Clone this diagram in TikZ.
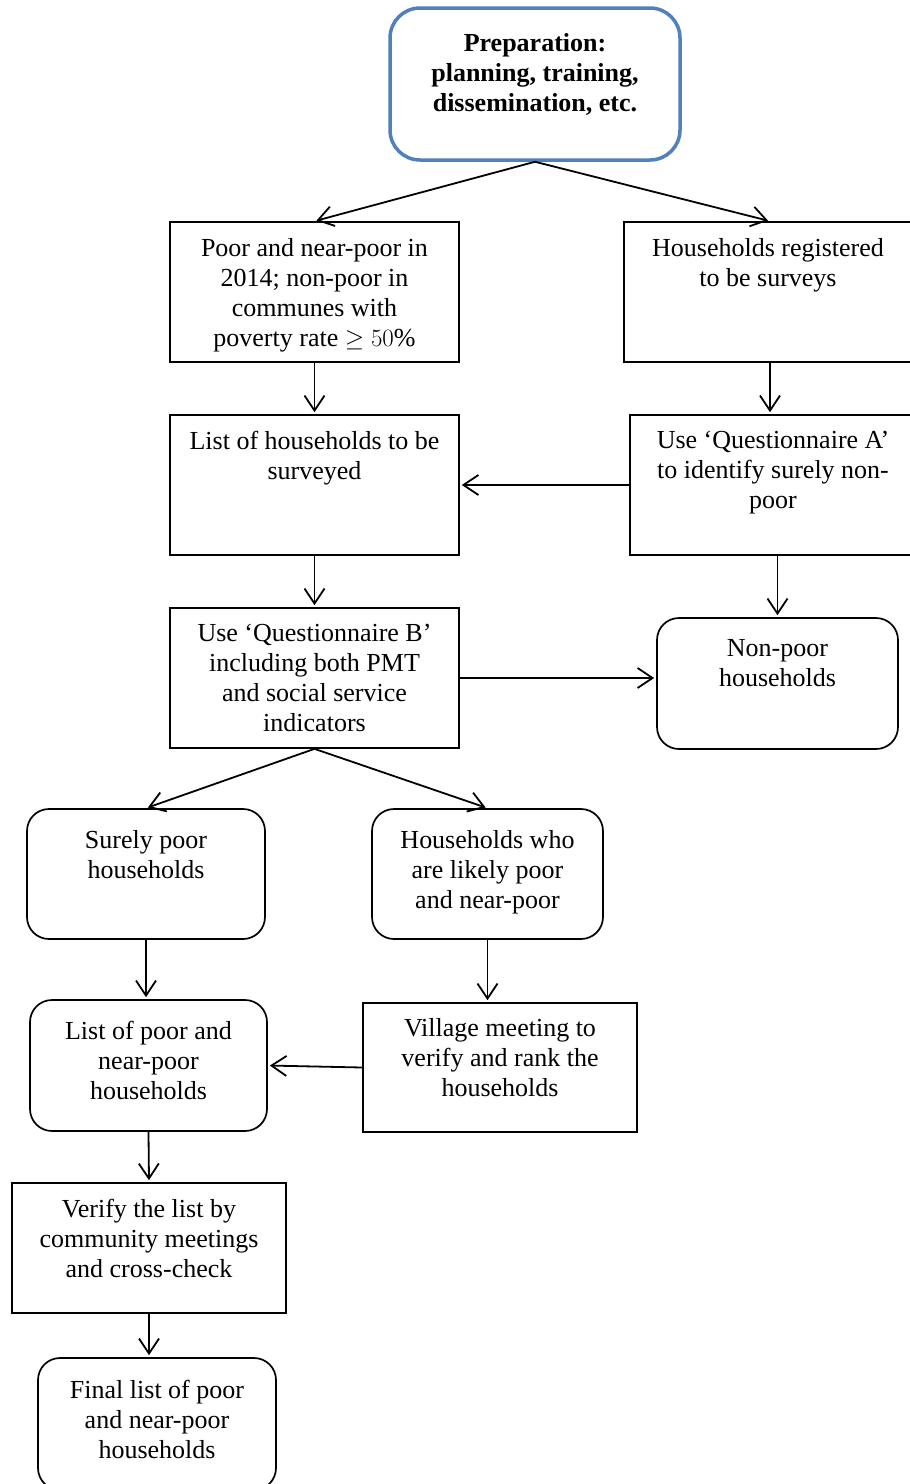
\documentclass[tikz,border=0pt]{standalone}
\usepackage{fontspec}
\setmainfont{Liberation Serif}
\usetikzlibrary{arrows.meta,calc}
\definecolor{prepblue}{RGB}{79,129,189}
\begin{document}
\begin{tikzpicture}[x=1pt,y=-1pt,
  box/.style={draw=black, line width=1.7pt, inner sep=0pt, fill=white},
  rbox/.style={box, rounded corners=22pt},
  txt/.style={anchor=north, align=center, inner sep=0pt, font=\fontsize{26}{30}\selectfont, execute at begin node=\strut},
  arr/.style={line width=1.8pt, -{Straight Barb[length=15pt,width=20pt,line width=1.8pt]}, shorten >=2pt}]
\useasboundingbox (0,0) rectangle (910,1484);
% boxes
\node[box, draw=prepblue, line width=3.5pt, rounded corners=30pt, minimum width=290pt, minimum height=152pt] (prep) at (535,84) {};
\node[box, minimum width=289pt, minimum height=140pt] (b1) at (314.5,292) {};
\node[box, minimum width=292pt, minimum height=140pt] (b2) at (770,292) {};
\node[box, minimum width=289pt, minimum height=140pt] (b3) at (314.5,485) {};
\node[box, minimum width=286pt, minimum height=140pt] (b4) at (773,485) {};
\node[box, minimum width=289pt, minimum height=140pt] (b5) at (314.5,678) {};
\node[rbox, minimum width=241pt, minimum height=131pt] (b6) at (777.5,683.5) {};
\node[rbox, minimum width=238pt, minimum height=130pt] (b7) at (146,874) {};
\node[rbox, minimum width=231pt, minimum height=130pt] (b8) at (487.5,874) {};
\node[rbox, minimum width=237pt, minimum height=131pt] (b9) at (148.5,1065.5) {};
\node[box, minimum width=274pt, minimum height=129pt] (b10) at (500,1067.5) {};
\node[box, minimum width=274pt, minimum height=130pt] (b11) at (149,1248) {};
\node[rbox, minimum width=238pt, minimum height=132pt] (b12) at (157,1424) {};
% texts
\node[txt, font=\fontsize{26}{30}\selectfont\bfseries] (t0) at (535,33) {Preparation:\\planning, training,\\dissemination, etc.};
\node[txt] (t1) at (314.5,238) {Poor and near-poor in\\2014; non-poor in\\communes with\\poverty rate $\geq 50\%$};
\node[txt] (t2) at (768,238) {Households registered\\to be surveys};
\node[txt] (t3) at (314.5,431) {List of households to be\\surveyed};
\node[txt] (t4) at (773,431) {Use ‘Questionnaire A’\\to identify surely non-\\poor};
\node[txt] (t5) at (314.5,624) {Use ‘Questionnaire B’\\including both PMT\\and social service\\indicators};
\node[txt] (t6) at (777.5,639) {Non-poor\\households};
\node[txt] (t7) at (146,830) {Surely poor\\households};
\node[txt] (t8) at (487.5,830) {Households who\\are likely poor\\and near-poor};
\node[txt] (t9) at (148.5,1021) {List of poor and\\near-poor\\households};
\node[txt] (t10) at (500,1018) {Village meeting to\\verify and rank the\\households};
\node[txt] (t11) at (149,1199) {Verify the list by\\community meetings\\and cross-check};
\node[txt] (t12) at (157,1380) {Final list of poor\\and near-poor\\households};
% connectors
\draw[arr] (prep.south) -- (b1.north);
\draw[arr] (prep.south) -- (b2.north);
\draw[arr] (b1.south) -- (b3.north);
\draw[arr] (b2.south) -- (b2.south |- b4.north);
\draw[arr] (b4.west) -- (b3.east);
\draw[arr] (b3.south) -- (b5.north);
\draw[arr] (b6.north |- b4.south) -- (b6.north);
\draw[arr] (b5.east) -- (b5.east -| b6.west);
\draw[arr] (b5.south) -- (b7.north);
\draw[arr] (b5.south) -- (b8.north);
\draw[arr] (b7.south) -- (b7.south |- b9.north);
\draw[arr] (b8.south) -- (b8.south |- b10.north);
\draw[arr] (b10.west) -- (b9.east);
\draw[arr] (b9.south) -- (b11.north);
\draw[arr] (b11.south) -- (b11.south |- b12.north);
\end{tikzpicture}
\end{document}
